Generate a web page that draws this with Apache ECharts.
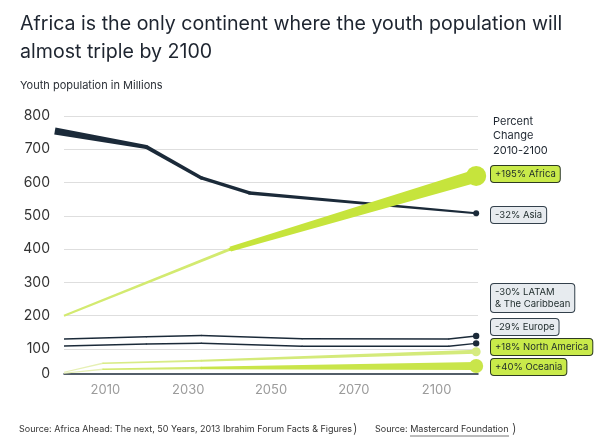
<!DOCTYPE html>
<html><head><meta charset="utf-8">
<script src="https://cdn.jsdelivr.net/npm/echarts@6/dist/echarts.min.js"></script>
<style>html,body{margin:0;padding:0;background:#fff}#c{width:595px;height:438px}</style>
</head><body><div id="c"></div>
<script>
// ---- data ----
const xLabels = ['2010', '2030', '2050', '2070', '2100'];
const yTickValues = [100, 200, 300, 400, 500, 600, 700, 800];
const baseLabel = '0';

const asiaX = [2008, 2028, 2040, 2050.5, 2100];
const asiaY = [755, 707, 614, 569, 508];
const africaX = [2010, 2046.3, 2100];
const africaY = [200, 400, 620];
const latamX = [2010, 2028, 2040, 2062, 2094, 2100];
const latamY = [130, 137, 141, 131, 130, 139];
const europeX = [2010, 2028, 2040, 2062, 2094, 2100];
const europeY = [109, 115, 117, 108, 108, 117];
const naX = [2010, 2018.5, 2040, 2100];
const naY = [30, 57, 65, 92];
const oceaniaX = [2010, 2018.5, 2040, 2100];
const oceaniaY = [27, 39, 43, 49];

const changeLabels = ['+195% Africa', '-32% Asia', '-30% LATAM\n& The Caribbean', '-29% Europe', '+18% North America', '+40% Oceania'];
const legendTitle = 'Percent\nChange\n2010-2100';
const titleText = 'Africa is the only continent where the youth population will\nalmost triple by 2100';
const subtitleText = 'Youth population in Millions';
const source1 = 'Source: Africa Ahead: The next, 50 Years, 2013 Ibrahim Forum Facts & Figures';
const source2a = 'Source: ';
const source2b = 'Mastercard Foundation';

// ---- styles ----
const DARK = '#1b2a39', LIME = '#c6e43c', FONT = 'Inter, "Noto Sans", sans-serif';
const styles = {
  asia:    {seg: [[7, 4], [4, 3.5], [3.5, 3.5], [3.5, 2]], colors: [DARK, DARK, DARK, DARK], dot: 3, dotColor: DARK, z: 3},
  africa:  {seg: [[2, 3], [5, 13]], colors: ['#d3ea70', LIME], dot: 10, dotColor: LIME, z: 6},
  latam:   {seg: [[1.5, 1.5], [1.5, 1.5], [1.5, 1.5], [1.5, 1.5], [1.5, 1.5]], colors: [DARK, DARK, DARK, DARK, DARK], dot: 3.2, dotColor: DARK, z: 4},
  europe:  {seg: [[1.5, 1.5], [1.5, 1.5], [1.5, 1.5], [1.5, 1.5], [1.5, 1.5]], colors: [DARK, DARK, DARK, DARK, DARK], dot: 3.2, dotColor: DARK, z: 4},
  na:      {seg: [[1, 1.5], [1.5, 2], [2, 4]], colors: ['#e6f0b4', '#d8ec86', '#d4ea7a'], dot: 4.5, dotColor: '#d6eb80', z: 4},
  oceania: {seg: [[1, 1.5], [1.5, 2.5], [2.5, 8]], colors: ['#e6f0b4', '#d2e96e', '#c9e54a'], dot: 7, dotColor: '#c9e54a', z: 5}
};

function ribbon(name, xs, ys, st) {
  return {
    type: 'custom', name, xAxisIndex: 0, yAxisIndex: 0, z: st.z, clip: false,
    encode: {x: 0, y: 1},
    data: xs.map((x, i) => [x, ys[i]]),
    renderItem(params, api) {
      const i = params.dataIndex;
      const p = api.coord([xs[i], ys[i]]);
      const children = [];
      if (i < xs.length - 1) {
        const q = api.coord([xs[i + 1], ys[i + 1]]);
        const w0 = st.seg[i][0], w1 = st.seg[i][1];
        const dx = q[0] - p[0], dy = q[1] - p[1], len = Math.hypot(dx, dy) || 1;
        const nx = -dy / len, ny = dx / len;
        children.push({type: 'polygon', shape: {points: [
          [p[0] + nx * w0 / 2, p[1] + ny * w0 / 2], [q[0] + nx * w1 / 2, q[1] + ny * w1 / 2],
          [q[0] - nx * w1 / 2, q[1] - ny * w1 / 2], [p[0] - nx * w0 / 2, p[1] - ny * w0 / 2]]},
          style: {fill: st.colors[i]}});
        if (i + 1 < xs.length - 1) {
          children.push({type: 'circle', shape: {cx: q[0], cy: q[1], r: Math.min(w1, st.seg[i + 1][0]) / 2}, style: {fill: st.colors[i + 1]}});
        }
      } else {
        children.push({type: 'circle', shape: {cx: p[0], cy: p[1], r: st.dot}, style: {fill: st.dotColor}});
      }
      return {type: 'group', children};
    }
  };
}

const boxTops = [165, 206, 283, 318, 338, 358];
const boxGreen = [true, false, false, false, true, true];
const graphics = [
  {type: 'text', left: 493, top: 114, style: {text: legendTitle, font: '11px ' + FONT, lineHeight: 14.5, fill: '#1e2630'}}
];
changeLabels.forEach((t, i) => {
  graphics.push({type: 'text', left: 490, top: boxTops[i], z: 10, style: {
    text: t, font: '9.5px ' + FONT, lineHeight: 12, fill: '#1d2a2a',
    backgroundColor: boxGreen[i] ? '#c9ea4a' : '#e7ebef', borderColor: boxGreen[i] ? '#2d3a22' : '#33404b',
    borderWidth: 1, borderRadius: 3, padding: [2, 4, 2, 4]}});
});
graphics.push(
  {type: 'text', left: 19, top: 425, style: {text: source1, font: '9px ' + FONT, fill: '#333'}},
  {type: 'text', left: 353, top: 423, style: {text: ')', font: '300 13px ' + FONT, fill: '#333'}},
  {type: 'text', left: 375, top: 425, style: {text: source2a + source2b, font: '9px ' + FONT, fill: '#333'}},
  {type: 'line', shape: {x1: 410, y1: 436, x2: 509, y2: 436}, style: {stroke: '#555', lineWidth: 0.8}},
  {type: 'text', left: 512, top: 423, style: {text: ')', font: '300 13px ' + FONT, fill: '#333'}}
);

const chart = echarts.init(document.getElementById('c'), null, {renderer: 'canvas'});
chart.setOption({
  animation: false,
  backgroundColor: '#fff',
  title: [
    {text: titleText, left: 15, top: 5, textStyle: {fontFamily: FONT, fontSize: 19.6, fontWeight: 400, color: '#1e2530', lineHeight: 28}},
    {text: subtitleText, left: 15, top: 75, textStyle: {fontFamily: FONT, fontSize: 11, fontWeight: 400, color: '#2a2f36'}}
  ],
  grid: {left: 64, top: 116, width: 414, height: 258, outerBoundsMode: 'none'},
  xAxis: [
    {type: 'value', min: 2010, max: 2100.4, position: 'bottom',
     axisLine: {show: true, onZero: false, lineStyle: {color: DARK, width: 1.5}},
     axisTick: {show: false}, axisLabel: {show: false}, splitLine: {show: false}},
    {type: 'category', data: xLabels, position: 'bottom', boundaryGap: true,
     axisLine: {show: false}, axisTick: {show: false}, splitLine: {show: false},
     axisLabel: {color: '#9b9b9b', fontSize: 13, margin: 10, fontFamily: FONT}}
  ],
  yAxis: {type: 'value', min: 25, max: 800, interval: 25,
    axisLine: {show: false}, axisTick: {show: false},
    axisLabel: {fontSize: 14, color: '#333', margin: 14, fontFamily: FONT,
      formatter: v => v === 25 ? baseLabel : (yTickValues.includes(v) ? String(v) : '')},
    splitLine: {lineStyle: {color: ['rgba(0,0,0,0)', 'rgba(0,0,0,0)', 'rgba(0,0,0,0)', '#dedede'], width: 1}}},
  series: [
    ribbon('LATAM & The Caribbean', latamX, latamY, styles.latam),
    ribbon('Europe', europeX, europeY, styles.europe),
    ribbon('North America', naX, naY, styles.na),
    ribbon('Oceania', oceaniaX, oceaniaY, styles.oceania),
    ribbon('Asia', asiaX, asiaY, styles.asia),
    ribbon('Africa', africaX, africaY, styles.africa)
  ],
  graphic: graphics
});
</script></body></html>
